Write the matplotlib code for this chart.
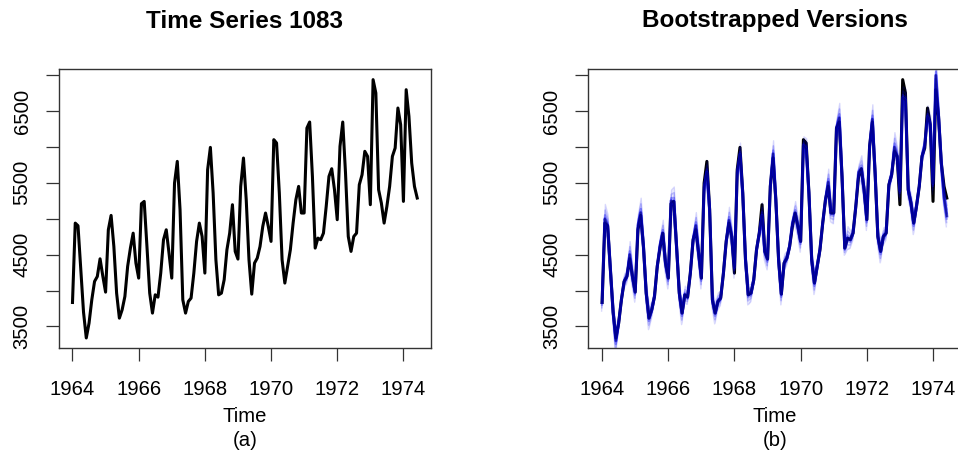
import numpy as np
import matplotlib
matplotlib.use("Agg")
import matplotlib.pyplot as plt

plt.rcParams["font.family"] = ["Liberation Sans", "DejaVu Sans"]

# monthly series, starting Jan 1964
start_year = 1964
series_1083 = [
    3834, 4939, 4902, 4300, 3700, 3340, 3546, 3871, 4127, 4196, 4442, 4200,
    3978, 4846, 5046, 4614, 3964, 3616, 3732, 3918, 4336, 4591, 4799, 4382,
    4173, 5209, 5241, 4614, 3964, 3686, 3941, 3908, 4243, 4707, 4846, 4521,
    4173, 5496, 5798, 5125, 3871, 3686, 3848, 3895, 4243, 4684, 4939, 4753,
    4243, 5682, 5993, 5357, 4429, 3940, 3964, 4150, 4568, 4799, 5195, 4545,
    4438, 5450, 5845, 5264, 4429, 3950, 4382, 4452, 4614, 4893, 5079, 4893,
    4684, 6100, 6054, 5357, 4429, 4104, 4336, 4568, 4939, 5264, 5450, 5079,
    5079, 6262, 6346, 5589, 4591, 4730, 4707, 4799, 5171, 5589, 5696, 5404,
    4986, 6007, 6346, 5636, 4753, 4545, 4753, 4799, 5473, 5612, 5938, 5868,
    5195, 6936, 6750, 5404, 5218, 4939, 5171, 5450, 5868, 5984, 6541, 6309,
    5241, 6796, 6425, 5775, 5450, 5288,
]

# bootstrapped versions: shift of the blue bundle from the original, and its half spread
boot_offset = [
    0, 60, 0, 0, 0, -40, 0, 0, 0, 0, 60, 0,
    0, 60, 40, 0, 0, 0, 0, 0, 0, 40, 0, 0,
    0, 40, 0, 0, 0, 0, 0, 0, 0, 0, 60, 0,
    0, -60, -150, 0, 0, 0, 0, 0, 0, 0, 40, 0,
    80, -40, -100, 0, 0, 0, 0, 0, 0, 0, -150, 0,
    0, 0, 60, 0, 0, 0, 0, 0, 0, 40, 0, 0,
    0, -80, -80, 0, 0, 0, 0, 0, 0, 0, 60, 0,
    0, 0, 60, 0, 0, 0, 0, 0, 0, 60, 0, 0,
    0, 0, 40, 0, 0, 0, 0, 0, 0, 0, 60, 0,
    200, -250, -100, 0, 0, 0, 0, 0, 0, 40, -120, 0,
    250, 200, 0, 0, -150, -250,
]
boot_band = [
    120, 200, 150, 100, 100, 180, 120, 100, 100, 100, 180, 120,
    140, 150, 200, 100, 100, 160, 120, 100, 100, 120, 180, 120,
    150, 150, 200, 100, 100, 160, 120, 100, 100, 100, 180, 120,
    150, 120, 160, 100, 100, 150, 120, 100, 100, 100, 180, 120,
    150, 120, 160, 100, 100, 140, 120, 100, 100, 100, 180, 120,
    150, 120, 180, 100, 100, 150, 120, 100, 100, 100, 160, 120,
    150, 120, 140, 100, 100, 160, 120, 100, 100, 100, 180, 120,
    150, 120, 200, 100, 100, 160, 120, 100, 100, 100, 180, 120,
    150, 120, 200, 100, 100, 160, 120, 100, 100, 100, 200, 120,
    150, 150, 150, 100, 100, 160, 120, 100, 100, 120, 150, 120,
    150, 200, 150, 100, 120, 150,
]

x_ticks = [1964, 1966, 1968, 1970, 1972, 1974]
y_ticks = [3500, 4000, 4500, 5000, 5500, 6000, 6500, 7000]
y_labels = ["3500", "", "4500", "", "5500", "", "6500", ""]

series = np.array(series_1083, dtype=float)
t = start_year + np.arange(len(series)) / 12.0
core = series + np.array(boot_offset, dtype=float)
band = np.array(boot_band, dtype=float)

# R style 4% padding of the ranges
tspan = t[-1] - t[0]
vspan = series.max() - series.min()
xlim = (t[0] - 0.04 * tspan, t[-1] + 0.04 * tspan)
ylim = (series.min() - 0.04 * vspan, series.max() + 0.04 * vspan)

fig = plt.figure(figsize=(9.58, 4.59), dpi=100)
W, H = 958.0, 459.0


def r_axes(left_px):
    ax = fig.add_axes([left_px / W, 1 - 348.3 / H, 372.3 / W, 279.0 / H])
    ax.set_xlim(*xlim)
    ax.set_ylim(*ylim)
    ax.set_xticks(x_ticks)
    ax.set_xticklabels([str(v) for v in x_ticks])
    ax.set_yticks(y_ticks)
    ax.set_yticklabels(y_labels)
    ax.tick_params(axis="both", direction="out", length=9.5, width=0.9,
                   labelsize=14.6, color="#333333")
    ax.tick_params(axis="x", pad=13.5)
    ax.tick_params(axis="y", pad=10, labelrotation=90)
    for lab in ax.get_yticklabels():
        lab.set_va("center")
    for sp in ax.spines.values():
        sp.set_linewidth(1.0)
        sp.set_color("#333333")
    return ax


ax_a = r_axes(58.7)
ax_a.plot(t, series, color="black", lw=2.2, solid_joinstyle="round")

ax_b = r_axes(588.3)
ax_b.plot(t, series, color="black", lw=2.2, solid_joinstyle="round")
ax_b.fill_between(t, core - band, core + band, color="blue", alpha=0.07, lw=0)
for f, a, w in [(-1.0, 0.15, 1.0), (1.0, 0.15, 1.0), (-0.6, 0.22, 1.2), (0.6, 0.22, 1.2),
                (-0.25, 0.35, 1.6), (0.25, 0.35, 1.6), (0.0, 0.55, 2.2)]:
    ax_b.plot(t + f * 0.015, core + f * band, color="#0000ee", alpha=a, lw=w,
              solid_joinstyle="round")
ax_b.plot(t, core, color="#000066", alpha=0.55, lw=1.4, solid_joinstyle="round")

# titles and bottom labels, placed like R's base graphics
for cx, title, sub in [(244.8, "Time Series 1083", "(a)"),
                       (774.7, "Bootstrapped Versions", "(b)")]:
    fig.text(cx / W, 1 - 27.5 / H, title, ha="center", va="baseline",
             fontsize=17.5, fontweight="bold")
    fig.text(cx / W, 1 - 421.5 / H, "Time", ha="center", va="baseline", fontsize=14.6)
    fig.text(cx / W, 1 - 446.5 / H, sub, ha="center", va="baseline", fontsize=14.6)

fig.savefig("out.png", dpi=100)
